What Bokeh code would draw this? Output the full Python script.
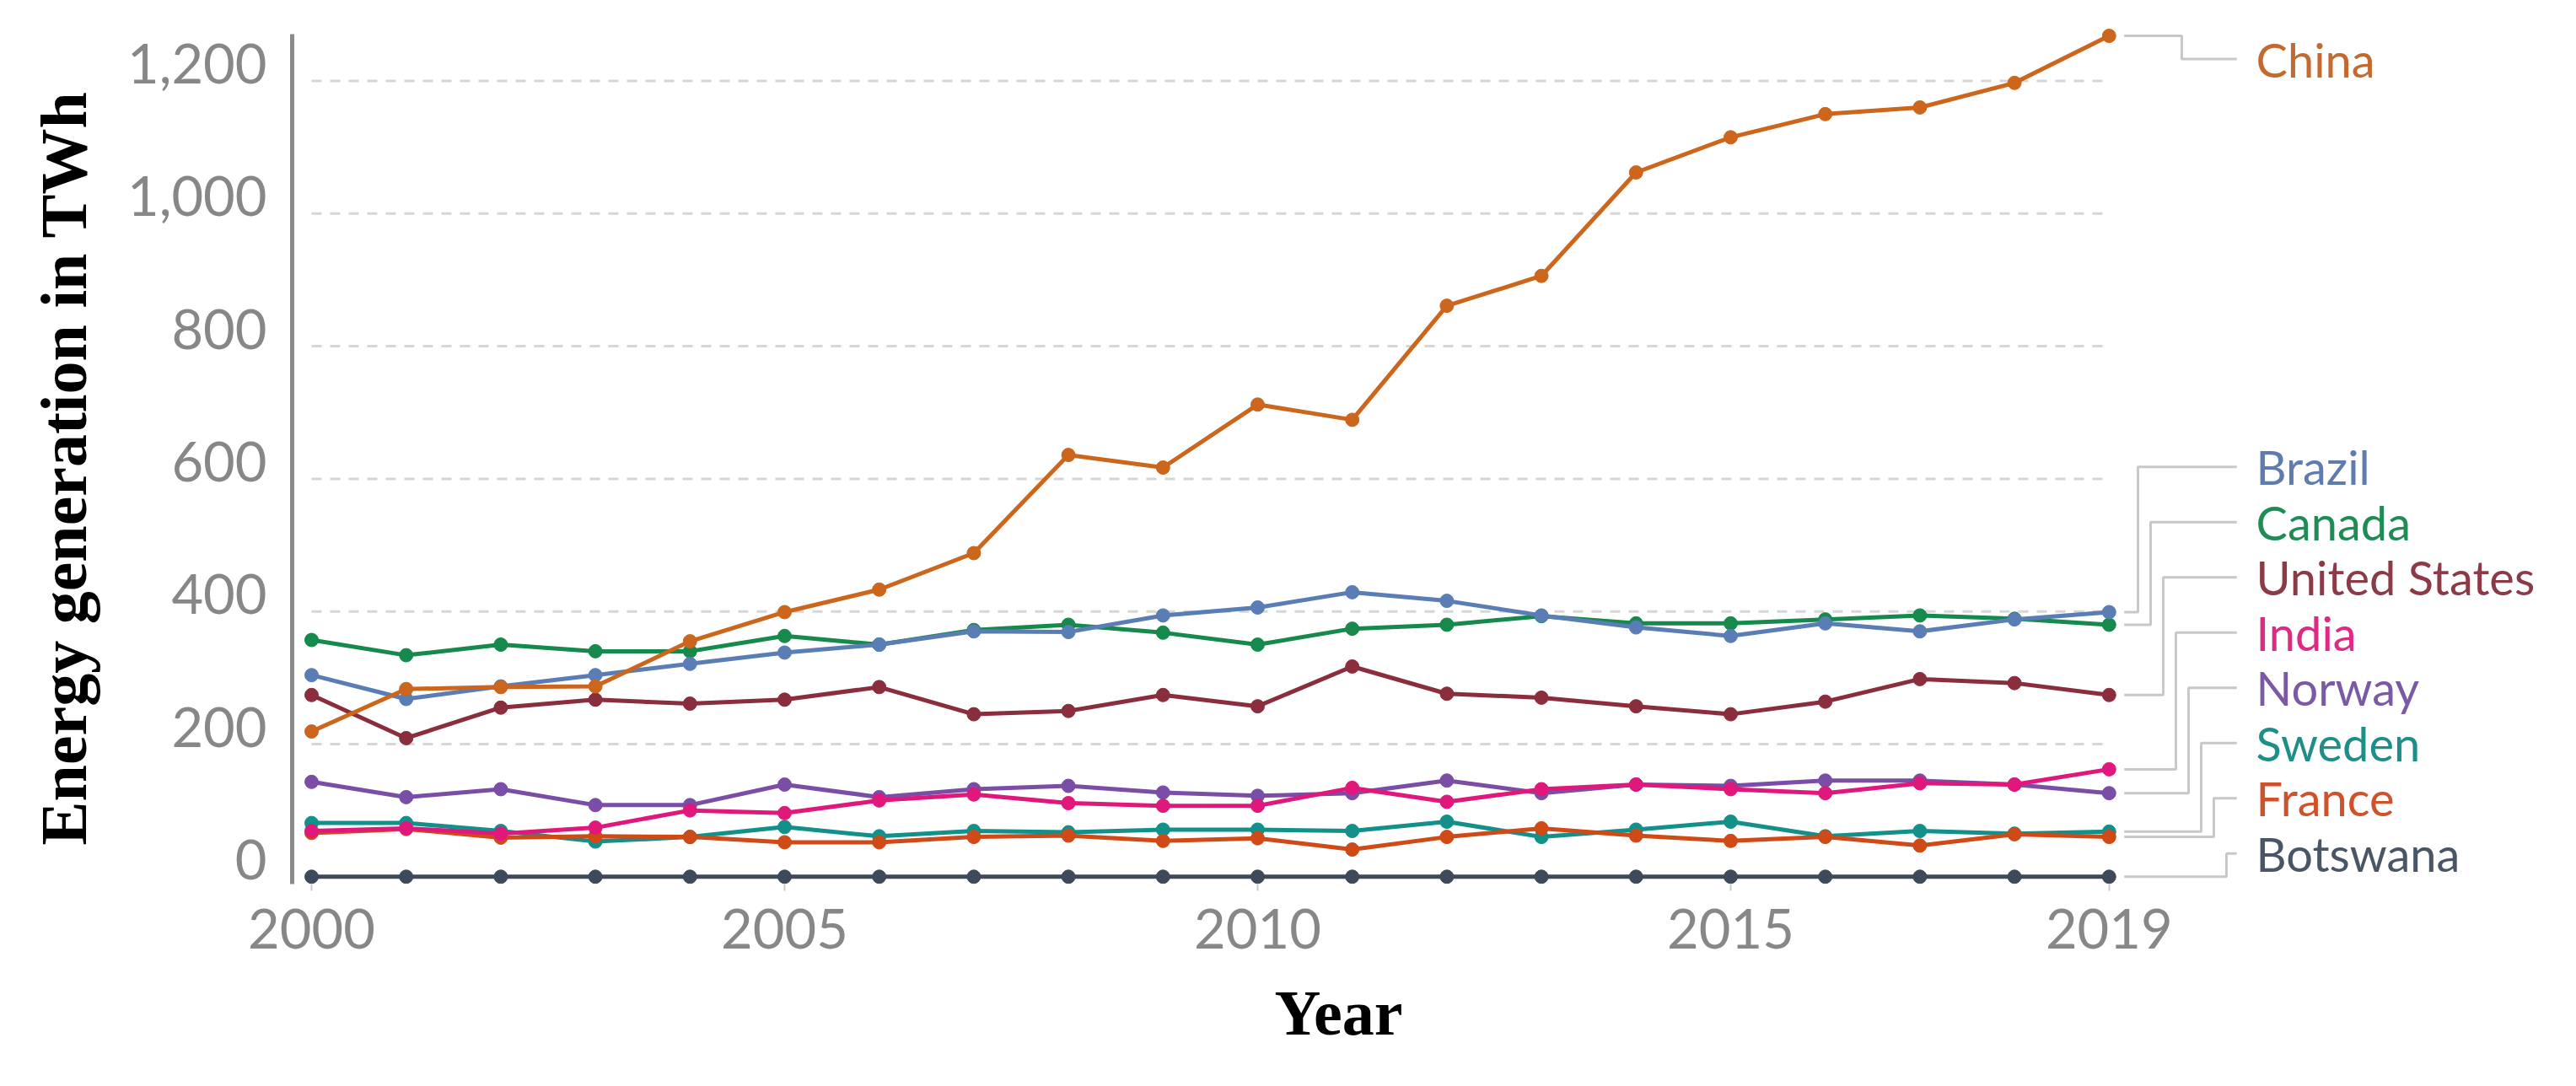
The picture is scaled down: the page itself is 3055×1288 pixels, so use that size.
from bokeh.plotting import figure
from bokeh.models import Range1d, FixedTicker, ColumnDataSource, LabelSet, Title
from bokeh.core.properties import value, field
from bokeh.embed import file_html
from bokeh.resources import INLINE

YEARS = list(range(2000, 2020))

CHINA = [219, 283, 286, 287, 355, 399, 433, 488, 636, 617, 712, 689, 861, 906, 1062, 1115, 1150, 1160, 1197, 1268]
BRAZIL = [304, 268, 287, 304, 321, 338, 350, 370, 369, 394, 406, 429, 416, 394, 376, 363, 382, 370, 388, 399]
CANADA = [357, 334, 350, 340, 340, 363, 350, 372, 380, 368, 350, 374, 380, 393, 382, 382, 388, 394, 389, 380]
UNITED_STATES = [274, 209, 255, 267, 261, 267, 286, 245, 250, 274, 257, 317, 276, 270, 257, 245, 264, 298, 292, 274]
INDIA = [69, 73, 65, 74, 100, 96, 115, 124, 111, 107, 107, 134, 113, 132, 139, 132, 126, 141, 139, 162]
NORWAY = [143, 120, 132, 108, 108, 139, 120, 132, 137, 127, 122, 126, 145, 126, 139, 137, 145, 145, 139, 126]
SWEDEN = [81, 81, 69, 53, 60, 75, 61, 69, 67, 71, 71, 69, 83, 60, 71, 83, 61, 69, 65, 68]
FRANCE = [66, 72, 59, 61, 60, 52, 52, 60, 62, 54, 58, 41, 60, 73, 62, 54, 60, 47, 64, 60]
BOTSWANA = [0] * 20

COUNTRIES = ["China", "Brazil", "Canada", "United States", "India", "Norway", "Sweden", "France", "Botswana"]
SERIES = [CHINA, BRAZIL, CANADA, UNITED_STATES, INDIA, NORWAY, SWEDEN, FRANCE, BOTSWANA]
COLORS = ["#cc661c", "#5a7db5", "#16894c", "#8a2d3d", "#e0187c", "#7a4ea6", "#14908a", "#cf4a16", "#3d4a5b"]
TEXT_COLORS = ["#c46a2e", "#5f7cae", "#1f8c55", "#8c3a48", "#de2a82", "#7a5aa5", "#1e8e88", "#d0522a", "#4a5566"]
DRAW_ORDER = ["Botswana", "Sweden", "France", "Norway", "India", "United States", "Canada", "Brazil", "China"]

Y_TICKS = [0, 200, 400, 600, 800, 1000, 1200]
X_TICKS = [2000, 2005, 2010, 2015, 2019]

# label layout (slots in data units)
CHINA_SLOT = 1233
LABEL_TOP = 618
LABEL_STEP = 83.3
LABEL_OFFSET = 26  # tick label sits above its gridline

p = figure(width=3039, height=1272, output_backend="svg", toolbar_location=None,
           x_range=Range1d(1999.795, 2023.797), y_range=Range1d(-11.06, 1285.8),
           min_border_left=346, min_border_right=0, min_border_top=28, min_border_bottom=224)
p.outline_line_color = None
p.background_fill_color = "white"
p.border_fill_color = "white"
p.grid.visible = False

# dashed grid lines spanning the data years
p.segment(x0=[YEARS[0]] * len(Y_TICKS), x1=[YEARS[-1]] * len(Y_TICKS), y0=Y_TICKS, y1=Y_TICKS,
          line_color="#d6d6d6", line_width=3, line_dash="12 10")

src = ColumnDataSource(dict(year=YEARS, **{c: s for c, s in zip(COUNTRIES, SERIES)}))
cmap = dict(zip(COUNTRIES, COLORS))
for c in DRAW_ORDER:
    p.line("year", c, source=src, line_color=cmap[c], line_width=5)
    p.scatter("year", c, source=src, size=16, fill_color=cmap[c], line_color=cmap[c])

# connectors from last points to labels
last_x = YEARS[-1]
GAP = 0.16
ELBOW0 = 0.305
ESTEP = 0.1337
END = 1.35
TXT = 1.553
xs, ys, lx, ly = [], [], [], []
for i, (c, s) in enumerate(zip(COUNTRIES, SERIES)):
    if c == "China":
        slot = CHINA_SLOT
        ex = last_x + 0.768
    else:
        k = i - 1
        slot = LABEL_TOP - k * LABEL_STEP
        ex = last_x + ELBOW0 + k * ESTEP
    xs.append([last_x + GAP, ex, ex, last_x + END])
    ys.append([s[-1], s[-1], slot, slot])
    lx.append(last_x + TXT)
    ly.append(slot)
p.multi_line(xs, ys, line_color="#c8c8c8", line_width=3)

lab_src = ColumnDataSource(dict(x=lx, y=ly, text=COUNTRIES, color=TEXT_COLORS))
labels = LabelSet(x="x", y="y", text="text", source=lab_src, text_color=field("color"),
                  text_font=value("Lato"), text_font_size="56px",
                  text_align="left", text_baseline="middle")
p.add_layout(labels)

# y axis
ya = p.yaxis[0]
ya.ticker = FixedTicker(ticks=[t + LABEL_OFFSET for t in Y_TICKS])
ya.major_label_overrides = {t + LABEL_OFFSET: f"{t:,}" for t in Y_TICKS}
ya.bounds = (-11, 1270)
ya.axis_line_color = "#8a8a8a"
ya.axis_line_width = 5
ya.major_tick_out = 0
ya.major_tick_in = 0
ya.minor_tick_out = 0
ya.minor_tick_in = 0
ya.major_label_standoff = 30
ya.major_label_text_font = "Lato"
ya.major_label_text_font_size = "65px"
ya.major_label_text_color = "#878787"

# x axis
xa = p.xaxis[0]
xa.ticker = FixedTicker(ticks=X_TICKS)
xa.axis_line_color = None
xa.major_tick_in = 0
xa.major_tick_out = 8
xa.major_tick_line_color = "#cccccc"
xa.major_tick_line_width = 2
xa.minor_tick_out = 0
xa.minor_tick_in = 0
xa.major_label_standoff = 21
xa.major_label_text_font = "Lato"
xa.major_label_text_font_size = "65px"
xa.major_label_text_color = "#878787"

# axis titles
ytitle = Title(text="Energy generation in TWh", align="left", offset=46, standoff=57,
               text_font="Liberation Serif", text_font_style="bold", text_font_size="78px",
               text_color="#000000")
p.add_layout(ytitle, "left")
xtitle = Title(text="Year", align="left", offset=1165, standoff=58,
               text_font="Liberation Serif", text_font_style="bold", text_font_size="76px",
               text_color="#000000")
p.add_layout(xtitle, "below")

open("out.html", "w").write(file_html(p, INLINE))
